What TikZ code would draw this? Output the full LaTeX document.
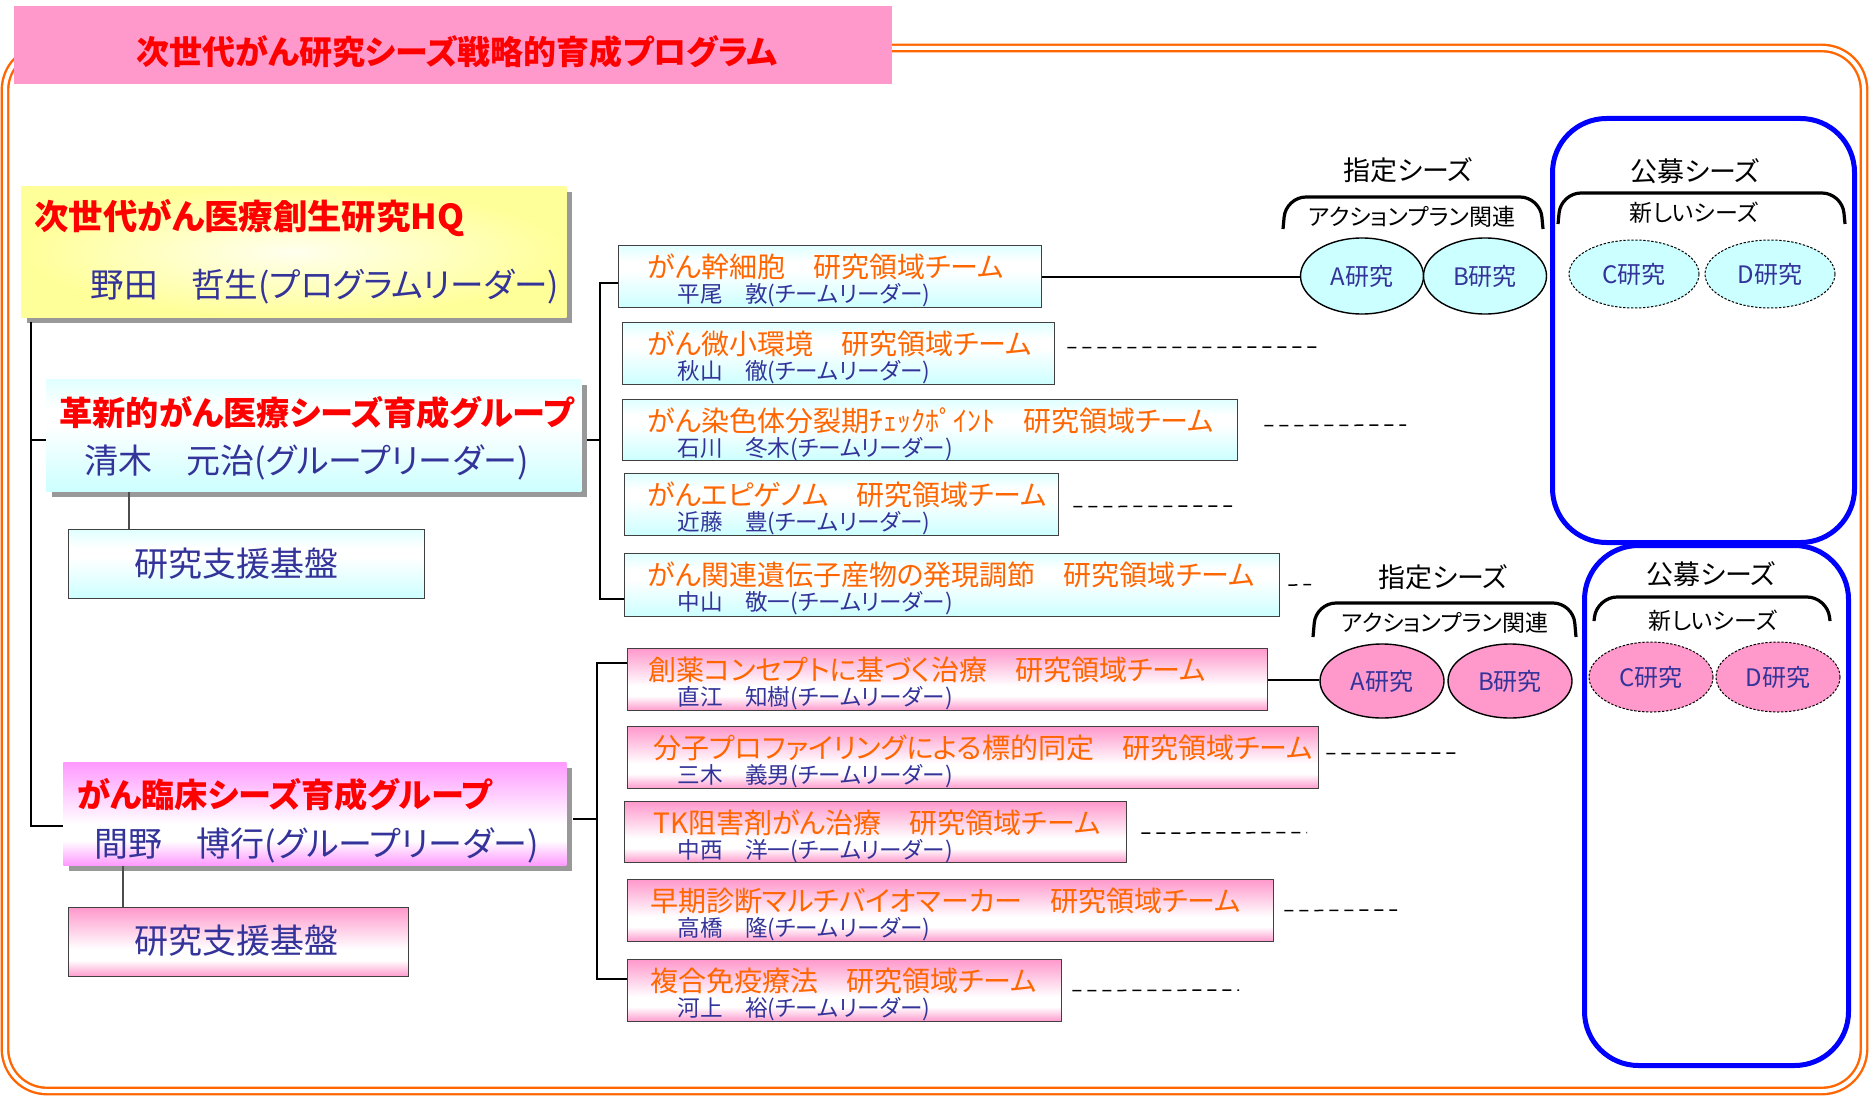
\documentclass[tikz,border=0pt]{standalone}
\usepackage{fontspec}
\setmainfont{Noto Sans CJK JP}[RawFeature=+palt]
\usetikzlibrary{calc,shadows,shapes.geometric}
\definecolor{orng}{HTML}{FF6600}
\definecolor{ttlpink}{HTML}{FF99CC}
\definecolor{navy}{HTML}{333399}
\definecolor{cyanL}{HTML}{CCFFFF}
\definecolor{cyanT}{HTML}{E0FFFF}
\definecolor{pinkL}{HTML}{FF99CC}
\definecolor{magL}{HTML}{FF99FF}
\definecolor{yelL}{HTML}{FFFF99}
\definecolor{yelW}{HTML}{FFFFEE}
\definecolor{blueB}{HTML}{0000FF}
\definecolor{redT}{HTML}{FF0000}
\definecolor{boxline}{HTML}{404040}
\pgfdeclareverticalshading{pkshade}{100bp}{color(0bp)=(pinkL); color(25bp)=(pinkL); color(37bp)=(white); color(45bp)=(white); color(75bp)=(pinkL); color(100bp)=(pinkL)}
\pgfdeclareverticalshading{mgshade}{100bp}{color(0bp)=(magL); color(25bp)=(magL); color(37bp)=(white); color(45bp)=(white); color(75bp)=(magL); color(100bp)=(magL)}
\pgfdeclareverticalshading{cyshade}{100bp}{color(0bp)=(cyanL); color(25bp)=(cyanL); color(55bp)=(white); color(62bp)=(white); color(75bp)=(cyanT); color(100bp)=(cyanT)}
\newcommand\fs[1]{\fontsize{#1pt}{#1pt}\selectfont}
\newcommand\bx[6]{\node[#2, anchor=north west, inner sep=0pt, minimum width={(#5-#3)*0.5pt}, minimum height={(#6-#4)*0.5pt}] (#1) at (#3,#4) {};}
\begin{document}
\begin{tikzpicture}[x=0.5pt,y=-0.5pt,
  conn/.style={draw=black, line width=1pt},
  sub/.style={draw=black!70, line width=0.6pt},
  dline/.style={draw=black, line width=0.75pt, dash pattern=on 4.5pt off 3pt},
  cybox/.style={draw=boxline, line width=0.7pt, shade, shading=cyshade},
  pkbox/.style={draw=boxline, line width=0.7pt, shade, shading=pkshade},
  shd/.style={drop shadow={shadow xshift=3pt, shadow yshift=-3pt, fill=black!40, opacity=1}},
  ttext/.style={anchor=west, inner sep=0pt, text=orng, font=\fs{14}},
  ltext/.style={anchor=west, inner sep=0pt, text=navy, font=\fs{11.3}},
  htext/.style={anchor=west, inner sep=0pt, text=redT, font=\fs{16.6}\bfseries},
  ntext/.style={anchor=west, inner sep=0pt, text=navy, font=\fs{17}},
  seedA/.style={ellipse, inner sep=0pt, draw=black, line width=0.7pt, text=navy, font=\fs{12}},
  seedC/.style={ellipse, inner sep=0pt, draw=black, line width=0.5pt, dash pattern=on 1.2pt off 0.8pt, text=navy, font=\fs{12}},
  brk/.style={draw=black, line width=1.6pt, rounded corners=10pt},
  lbl/.style={inner sep=0pt, text=black, font=\fs{13.5}},
  sublbl/.style={inner sep=0pt, text=black, font=\fs{11.5}},
  pubbox/.style={draw=blueB, line width=2.5pt, rounded corners=27pt},
]
\useasboundingbox (0,0) rectangle (1872,1097);
% outer border
\draw[draw=orng, line width=1.2pt, double=white, double distance=2pt, rounded corners=21pt] (5,48) rectangle (1864,1091);
% title
\bx{tbox}{fill=ttlpink}{14}{6}{892}{84}
\node[inner sep=0pt, text=redT, font=\fs{16.5}\bfseries] (ttl) at (457,52) {次世代がん研究シーズ戦略的育成プログラム};
% HQ
\bx{hq}{shd, inner color=yelW, outer color=yelL}{21}{186}{566}{317}
\node[htext, font=\fs{17.2}\bfseries] (hq1) at (34,218) {次世代がん医療創生研究HQ};
\node[ntext, font=\fs{16.8}] (hq2) at (90,287) {野田　哲生(プログラムリーダー)};
% group 1
\bx{g1}{shd, shade, shading=cyshade}{46}{379}{581}{491}
\node[htext] (g1a) at (59,413) {革新的がん医療シーズ育成グループ};
\node[ntext] (g1b) at (84,462) {清木　元治(グループリーダー)};
\bx{s1}{cybox}{68}{529}{424}{598}
\node[inner sep=0pt, text=navy, font=\fs{17}] (s1t) at (236,564) {研究支援基盤};
% group 2
\bx{g2}{shd, shade, shading=mgshade}{63}{762}{566}{865}
\node[htext] (g2a) at (77,795) {がん臨床シーズ育成グループ};
\node[ntext] (g2b) at (94,845) {間野　博行(グループリーダー)};
\bx{s2}{pkbox}{68}{907}{408}{976}
\node[inner sep=0pt, text=navy, font=\fs{17}] (s2t) at (236,941) {研究支援基盤};
% teams column 1
\bx{t1}{cybox}{618}{245}{1041}{307}
\node[ttext] (t1a) at (647,267) {がん幹細胞　研究領域チーム};
\node[ltext] (t1b) at (677,295) {平尾　敦(チームリーダー)};
\bx{t2}{cybox}{622}{322}{1054}{384}
\node[ttext] (t2a) at (647,344) {がん微小環境　研究領域チーム};
\node[ltext] (t2b) at (677,372) {秋山　徹(チームリーダー)};
\bx{t3}{cybox}{622}{399}{1237}{460}
\node[ttext] (t3a) at (647,421) {がん染色体分裂期ﾁｪｯｸﾎﾟｲﾝﾄ　研究領域チーム};
\node[ltext] (t3b) at (677,449) {石川　冬木(チームリーダー)};
\bx{t4}{cybox}{624}{473}{1058}{535}
\node[ttext] (t4a) at (647,495) {がんエピゲノム　研究領域チーム};
\node[ltext] (t4b) at (677,523) {近藤　豊(チームリーダー)};
\bx{t5}{cybox}{624}{553}{1279}{616}
\node[ttext] (t5a) at (647,575) {がん関連遺伝子産物の発現調節　研究領域チーム};
\node[ltext] (t5b) at (677,603) {中山　敬一(チームリーダー)};
% teams column 2
\bx{t6}{pkbox}{627}{648}{1267}{710}
\node[ttext] (t6a) at (648,670) {創薬コンセプトに基づく治療　研究領域チーム};
\node[ltext] (t6b) at (677,698) {直江　知樹(チームリーダー)};
\bx{t7}{pkbox}{627}{726}{1318}{788}
\node[ttext] (t7a) at (653,748) {分子プロファイリングによる標的同定　研究領域チーム};
\node[ltext] (t7b) at (677,776) {三木　義男(チームリーダー)};
\bx{t8}{pkbox}{624}{801}{1126}{862}
\node[ttext] (t8a) at (653,823) {TK阻害剤がん治療　研究領域チーム};
\node[ltext] (t8b) at (677,851) {中西　洋一(チームリーダー)};
\bx{t9}{pkbox}{627}{879}{1273}{941}
\node[ttext] (t9a) at (650,901) {早期診断マルチバイオマーカー　研究領域チーム};
\node[ltext] (t9b) at (677,929) {高橋　隆(チームリーダー)};
\bx{t10}{pkbox}{627}{959}{1061}{1021}
\node[ttext] (t10a) at (650,981) {複合免疫療法　研究領域チーム};
\node[ltext] (t10b) at (677,1009) {河上　裕(チームリーダー)};
% public seed boxes
\bx{pub1}{pubbox}{1550}{116}{1852}{540}
\bx{pub2}{pubbox}{1582}{543}{1846}{1063}
% seeds upper
\node[lbl] (sx1) at (1408,170) {指定シーズ};
\node[sublbl] (ap1) at (1412,217) {アクションプラン関連};
\node[lbl] (pb1) at (1695,171) {公募シーズ};
\node[sublbl] (ns1) at (1694,213) {新しいシーズ};
\draw[brk] (1283,229) -- (1286,197) -- (1540,197) -- (1543,229);
\draw[brk] (1558,224) -- (1561,193) -- (1842,193) -- (1845,224);
\node[seedA, fill=cyanL, minimum width=61.5pt, minimum height=38pt] (A1) at (1362,276) {A研究};
\node[seedA, fill=cyanL, minimum width=61.5pt, minimum height=38pt] (B1) at (1485,276) {B研究};
\node[seedC, fill=cyanL, minimum width=65pt, minimum height=34pt] (C1) at (1634,274) {C研究};
\node[seedC, fill=cyanL, minimum width=65pt, minimum height=34pt] (D1) at (1770,274) {D研究};
% seeds lower
\node[lbl] (sx2) at (1443,577) {指定シーズ};
\node[sublbl] (ap2) at (1445,623) {アクションプラン関連};
\node[lbl] (pb2) at (1711,574) {公募シーズ};
\node[sublbl] (ns2) at (1713,621) {新しいシーズ};
\draw[brk] (1313,637) -- (1316,603) -- (1573,603) -- (1576,637);
\draw[brk] (1594,621) -- (1597,597) -- (1827,597) -- (1830,621);
\node[seedA, fill=pinkL, minimum width=62pt, minimum height=37pt] (A2) at (1382,681) {A研究};
\node[seedA, fill=pinkL, minimum width=62pt, minimum height=37pt] (B2) at (1510,681) {B研究};
\node[seedC, fill=pinkL, minimum width=62pt, minimum height=35pt] (C2) at (1651,677) {C研究};
\node[seedC, fill=pinkL, minimum width=62pt, minimum height=35pt] (D2) at (1778,677) {D研究};
% tree connectors
\coordinate (vtop) at (31,322);
\draw[conn] (vtop) |- ($(g2.west)+(0,12)$);
\draw[conn] ($(g1.west)+(0,5)$) -| (vtop);
\coordinate (k1) at (129,0);
\coordinate (k2) at (123,0);
\draw[sub] (g1.south -| k1) -- (s1.north -| k1);
\draw[sub] (g2.south -| k2) -- (s2.north -| k2);
\draw[conn] ($(g1.east)+(5,5)$) -- ($(g1.east)+(19,5)$);
\draw[conn] ($(t1.west)+(0,6)$) -- ($(t1.west)+(-18,6)$) |- ($(t5.west)+(0,14)$);
\draw[conn] ($(g2.east)+(6,5)$) -- ($(g2.east)+(31,5)$);
\draw[conn] ($(t6.west)+(0,-17)$) -- ($(t6.west)+(-30,-17)$) |- ($(t10.west)+(0,-12)$);
% team to seeds
\draw[conn] (t1.east) -- (t1.east -| A1.west);
\draw[conn] (t6.east) -- (t6.east -| A2.west);
% dashed leaders
\coordinate (e2) at (1317,347);
\coordinate (e3) at (1406,425);
\coordinate (e4) at (1232,506);
\coordinate (e5) at (1311,584.5);
\coordinate (e7) at (1457,753);
\coordinate (e8) at (1307,832.5);
\coordinate (e9) at (1397,910);
\coordinate (e10) at (1239,990);
\draw[dline] ($(t2.east)+(12,-6)$) -- (e2);
\draw[dline] ($(t3.east)+(26,-4.5)$) -- (e3);
\draw[dline] ($(t4.east)+(14,2)$) -- (e4);
\draw[dline] ($(t5.east)+(8,0)$) -- (e5);
\draw[dline] ($(t7.east)+(7,-4)$) -- (e7);
\draw[dline] ($(t8.east)+(14,1)$) -- (e8);
\draw[dline] ($(t9.east)+(10,0)$) -- (e9);
\draw[dline] ($(t10.east)+(10,0)$) -- (e10);
\end{tikzpicture}
\end{document}
